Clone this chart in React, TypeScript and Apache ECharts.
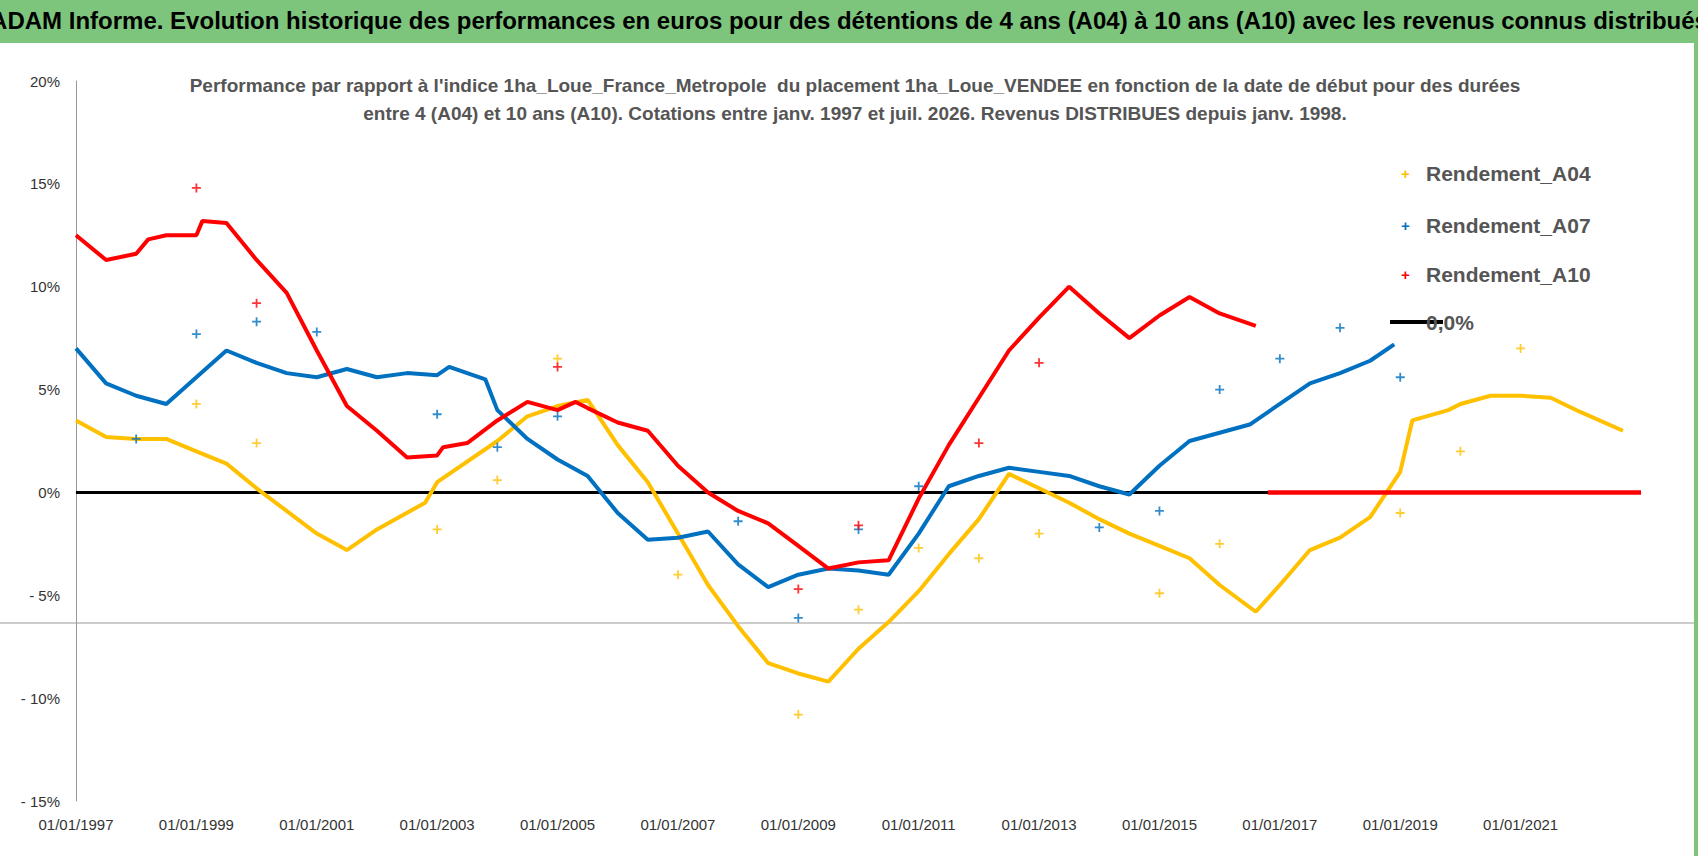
import React, { useEffect, useRef } from "react";
import * as echarts from "echarts";

const xTicks = [1997, 1999, 2001, 2003, 2005, 2007, 2009, 2011, 2013, 2015, 2017, 2019, 2021];
const a04: [number, number][] = [[1997,3.5],[1997.5,2.7],[1998,2.6],[1998.5,2.6],[1999,2.0],[1999.5,1.4],[2000,0.2],[2001,-2.0],[2001.5,-2.8],[2002,-1.8],[2002.8,-0.5],[2003,0.5],[2004,2.5],[2004.5,3.7],[2005,4.2],[2005.5,4.5],[2006,2.3],[2006.5,0.5],[2007,-2],[2007.5,-4.5],[2008,-6.5],[2008.5,-8.3],[2009,-8.8],[2009.5,-9.2],[2010,-7.6],[2010.5,-6.3],[2011,-4.8],[2011.5,-3.0],[2012,-1.3],[2012.5,0.9],[2013,0.2],[2013.5,-0.5],[2014,-1.3],[2014.5,-2.0],[2015,-2.6],[2015.5,-3.2],[2016,-4.5],[2016.6,-5.8],[2017,-4.5],[2017.5,-2.8],[2018,-2.2],[2018.5,-1.2],[2019,1.0],[2019.2,3.5],[2019.8,4.0],[2020,4.3],[2020.5,4.7],[2021,4.7],[2021.5,4.6],[2022,3.9],[2022.7,3.0]];
const a04Out: [number, number][] = [[1999,4.3],[2000,2.4],[2003,-1.8],[2004,0.6],[2005,6.5],[2007,-4],[2009,-10.8],[2010,-5.7],[2011,-2.7],[2012,-3.2],[2013,-2],[2015,-4.9],[2016,-2.5],[2019,-1],[2020,2],[2021,7]];
const a07: [number, number][] = [[1997,7.0],[1997.5,5.3],[1998,4.7],[1998.5,4.3],[1999,5.6],[1999.5,6.9],[2000,6.3],[2000.5,5.8],[2001,5.6],[2001.5,6.0],[2002,5.6],[2002.5,5.8],[2003,5.7],[2003.2,6.1],[2003.8,5.5],[2004,4.0],[2004.5,2.6],[2005,1.6],[2005.5,0.8],[2006,-1.0],[2006.5,-2.3],[2007,-2.2],[2007.5,-1.9],[2008,-3.5],[2008.5,-4.6],[2009,-4.0],[2009.5,-3.7],[2010,-3.8],[2010.5,-4.0],[2011,-2.0],[2011.5,0.3],[2012,0.8],[2012.5,1.2],[2013,1.0],[2013.5,0.8],[2014,0.3],[2014.5,-0.1],[2015,1.3],[2015.5,2.5],[2016,2.9],[2016.5,3.3],[2017,4.3],[2017.5,5.3],[2018,5.8],[2018.5,6.4],[2018.9,7.2]];
const a07Out: [number, number][] = [[1998,2.6],[1999,7.7],[2000,8.3],[2001,7.8],[2003,3.8],[2004,2.2],[2005,3.7],[2008,-1.4],[2009,-6.1],[2010,-1.8],[2011,0.3],[2014,-1.7],[2015,-0.9],[2016,5],[2017,6.5],[2018,8],[2019,5.6]];
const a10: [number, number][] = [[1997,12.5],[1997.5,11.3],[1998,11.6],[1998.2,12.3],[1998.5,12.5],[1999,12.5],[1999.1,13.2],[1999.5,13.1],[2000,11.3],[2000.5,9.7],[2001,6.9],[2001.5,4.2],[2002,3.0],[2002.5,1.7],[2003,1.8],[2003.1,2.2],[2003.5,2.4],[2004,3.5],[2004.5,4.4],[2005,4.0],[2005.3,4.4],[2005.5,4.1],[2006,3.4],[2006.5,3.0],[2007,1.3],[2007.5,0.0],[2008,-0.9],[2008.5,-1.5],[2009,-2.6],[2009.5,-3.7],[2010,-3.4],[2010.5,-3.3],[2011,-0.3],[2011.5,2.3],[2012,4.6],[2012.5,6.9],[2013,8.5],[2013.5,10.0],[2014,8.7],[2014.5,7.5],[2015,8.6],[2015.5,9.5],[2016,8.7],[2016.6,8.1]];
const a10Zero: [number, number][] = [[2016.8,0],[2023,0]];
const a10Out: [number, number][] = [[1999,14.8],[2000,9.2],[2005,6.1],[2009,-4.7],[2010,-1.6],[2012,2.4],[2013,6.3]];
const zeroLine: [number, number][] = [[1997,0],[2023,0]];

const FONT = "'Liberation Sans Narrow', 'Liberation Sans', sans-serif";
const YEL = "#FFC000", BLU = "#0070C0", RED = "#FF0000";

export default function App() {
  const ref = useRef<HTMLDivElement>(null);
  useEffect(() => {
    const chart = echarts.init(ref.current!, null, { renderer: "svg" });
    const line = (name: string, data: any, color: string, w = 4) => ({
      name, type: "line", data, symbol: "none", lineStyle: { color, width: w }, silent: true, z: 3,
    });
    const pts = (data: any, color: string) => ({
      type: "scatter", data, symbol: "path://M4,0H6V4H10V6H6V10H4V6H0V4H4Z", symbolSize: 9,
      itemStyle: { color }, z: 4,
    });
    const legTxt = (t: string, y: number) => ({ type: "text", x: 1426, y, style: { text: t, font: "bold 21px " + FONT, fill: "#555", verticalAlign: "middle" } });
    const legPlus = (c: string, y: number) => ({ type: "text", x: 1401, y, style: { text: "+", font: "bold 15px sans-serif", fill: c, verticalAlign: "middle" } });
    chart.setOption({
      animation: false,
      backgroundColor: "#fff",
      grid: { left: 76, right: 57, top: 81, bottom: 55 },
      xAxis: {
        type: "value", min: 1997, max: 2023, interval: 2,
        axisLine: { lineStyle: { color: "#999" } }, axisTick: { show: false }, splitLine: { show: false },
        axisLabel: { formatter: (v: number) => (v <= 2021 ? "01/01/" + v : ""), color: "#333", fontSize: 15, fontFamily: FONT, margin: 16 },
      },
      yAxis: {
        type: "value", min: -15, max: 20, interval: 5,
        axisLine: { show: true, lineStyle: { color: "#999" } }, axisTick: { show: false }, splitLine: { show: false },
        axisLabel: { formatter: (v: number) => (v < 0 ? "- " + -v + "%" : v + "%"), color: "#333", fontSize: 15, fontFamily: FONT, margin: 16 },
      },
      series: [
        line("zero", zeroLine, "#000", 3),
        line("Rendement_A04", a04, YEL),
        line("Rendement_A07", a07, BLU),
        line("Rendement_A10", a10, RED),
        line("a10zero", a10Zero, RED, 4.5),
        pts(a04Out, YEL), pts(a07Out, BLU), pts(a10Out, RED),
      ],
      graphic: [
        { type: "rect", left: 0, top: 0, shape: { width: 1698, height: 43 }, style: { fill: "#7DC57D" } },
        { type: "text", left: "center", top: 8, style: { text: "ADAM Informe. Evolution historique des performances en euros pour des détentions de 4 ans (A04) à 10 ans (A10) avec les revenus connus distribués", font: "bold 24px " + FONT, fill: "#000" } },
        { type: "rect", left: 1694, top: 43, shape: { width: 4, height: 813 }, style: { fill: "#7DC57D" } },
        { type: "line", shape: { x1: 0, y1: 623, x2: 1694, y2: 623 }, style: { stroke: "#999", lineWidth: 1 } },
        { type: "text", x: 855, y: 71, style: { text: "Performance par rapport à l'indice 1ha_Loue_France_Metropole  du placement 1ha_Loue_VENDEE en fonction de la date de début pour des durées\nentre 4 (A04) et 10 ans (A10). Cotations entre janv. 1997 et juil. 2026. Revenus DISTRIBUES depuis janv. 1998.", font: "bold 19px " + FONT, fill: "#555", align: "center", lineHeight: 28 } },
        legPlus(YEL, 173), legTxt("Rendement_A04", 173),
        legPlus(BLU, 225), legTxt("Rendement_A07", 225),
        legPlus(RED, 274), legTxt("Rendement_A10", 274),
        { type: "line", shape: { x1: 1390, y1: 322, x2: 1443, y2: 322 }, style: { stroke: "#000", lineWidth: 4 } },
        legTxt("0,0%", 322),
      ],
    });
    return () => chart.dispose();
  }, []);
  return <div ref={ref} style={{ position: "fixed", left: 0, top: 0, width: 1698, height: 856 }} />;
}
